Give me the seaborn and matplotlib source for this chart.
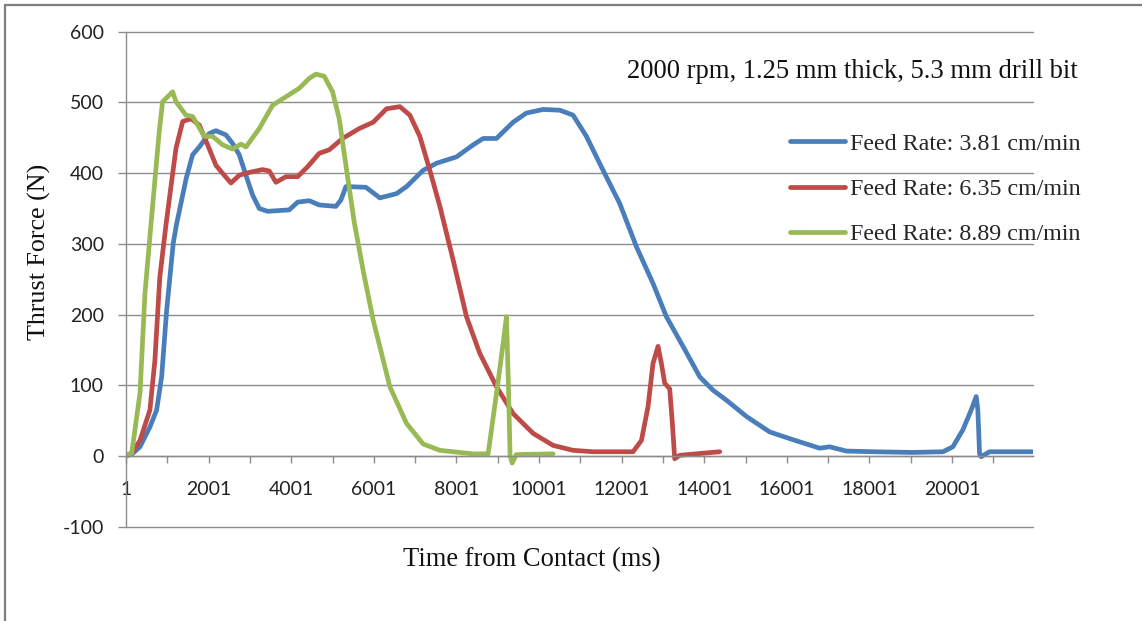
import numpy as np
import pandas as pd
import matplotlib
matplotlib.use("Agg")
import matplotlib.pyplot as plt
import seaborn as sns
from matplotlib.lines import Line2D

# ---- data ----
series_names = ["Feed Rate: 3.81 cm/min", "Feed Rate: 6.35 cm/min", "Feed Rate: 8.89 cm/min"]
series_colors = ["#4A7EBB", "#BE4B48", "#98B954"]

t_381 = [1, 150, 340, 580, 743, 864, 985, 1145, 1222, 1460, 1614, 1775, 2017, 2179, 2421,
         2582, 2743, 2905, 3066, 3227, 3429, 3953, 4156, 4437, 4679, 5083, 5204, 5325, 5808,
         6147, 6551, 6793, 7196, 7519, 8003, 8406, 8648, 8970, 9373, 9696, 10099, 10503,
         10825, 11148, 11551, 11955, 12358, 12761, 13084, 13487, 13891, 14213, 14536, 15020,
         15585, 16149, 16795, 17037, 17440, 18085, 19053, 19780, 20020, 20262, 20464, 20585,
         20625, 20666, 20706, 20908, 21950]
f_381 = [0, 3, 13, 41, 65, 112, 206, 301, 327, 393, 426, 437, 456, 460, 454,
         442, 426, 397, 369, 350, 346, 348, 359, 361, 355, 353, 362, 381, 380,
         365, 371, 381, 404, 414, 423, 440, 449, 449, 472, 485, 490, 489,
         482, 452, 404, 357, 296, 244, 197, 155, 112, 93, 79, 56,
         34, 23, 11, 13, 7, 6, 5, 6, 13, 37, 65, 84,
         65, 3, -1, 6, 6]

t_635 = [1, 150, 340, 580, 700, 820, 969, 1211, 1373, 1574, 1775, 1977, 2179, 2380, 2542,
         2743, 2985, 3309, 3470, 3631, 3873, 4156, 4398, 4680, 4922, 5244, 5647, 5986, 6309,
         6631, 6873, 7115, 7357, 7600, 7922, 8244, 8567, 8970, 9373, 9857, 10341, 10825,
         11310, 12277, 12480, 12640, 12760, 12882, 12963, 13043, 13164, 13229, 13286, 13407,
         14375]
f_635 = [0, 5, 22, 65, 135, 253, 327, 435, 473, 477, 468, 440, 411, 397, 386,
         397, 401, 405, 403, 387, 395, 395, 409, 428, 433, 449, 463, 472, 491,
         494, 482, 452, 404, 353, 277, 197, 145, 98, 60, 32, 15, 8,
         6, 6, 22, 70, 131, 155, 131, 103, 95, 46, -4, 1,
         6]

t_889 = [1, 140, 340, 460, 605, 806, 887, 1130, 1210, 1452, 1614, 1735, 1896, 2098, 2340,
         2582, 2783, 2905, 3227, 3550, 3873, 4195, 4437, 4599, 4800, 5002, 5163, 5325, 5526,
         5750, 5986, 6389, 6793, 7195, 7600, 8405, 8768, 8970, 9131, 9212, 9260, 9300, 9350,
         9450, 10340]
f_889 = [0, 4, 89, 230, 327, 459, 501, 515, 501, 482, 480, 468, 452, 452, 440,
         434, 441, 437, 463, 496, 508, 520, 534, 540, 537, 515, 477, 411, 331,
         260, 192, 98, 46, 17, 8, 3, 3, 88, 159, 197, 100, 0, -10,
         2, 3]

x_major = list(range(1, 20002, 2000))
x_minor = list(range(1001, 21002, 2000))
y_ticks = list(range(-100, 601, 100))

title_text = "2000 rpm, 1.25 mm thick, 5.3 mm drill bit"
x_label = "Time from Contact (ms)"
y_label = "Thrust Force (N)"

# ---- long-form table ----
frames = []
for name, t, f in zip(series_names, [t_381, t_635, t_889], [f_381, f_635, f_889]):
    frames.append(pd.DataFrame({"time": t, "force": f, "series": name}))
df = pd.concat(frames, ignore_index=True)

# ---- figure ----
sns.set_theme(style="white")
plt.rcParams["axes.unicode_minus"] = False
serif = ["Liberation Serif", "DejaVu Serif"]
W, H = 1142, 621
fig = plt.figure(figsize=(W / 100, H / 100), dpi=100)
L, R, T, B = 126, 1033, 31.7, 526.7
ax = fig.add_axes([L / W, 1 - B / H, (R - L) / W, (B - T) / H])

sns.lineplot(data=df, x="time", y="force", hue="series", hue_order=series_names,
             palette=series_colors, estimator=None, sort=False, linewidth=3.4,
             ax=ax, legend=True)
for ln in ax.get_lines():
    ln.set_solid_capstyle("round")
    ln.set_solid_joinstyle("round")

ax.set_xlim(1, 21960)
ax.set_ylim(-100, 600)
ax.set_yticks(y_ticks)
ax.set_xticks(x_major)
ax.set_xticks(x_minor, minor=True)
ax.set_xticklabels([str(v) for v in x_major])

grid_c = "#8C8C8C"
ax.yaxis.grid(True, color=grid_c, linewidth=1.0)
ax.xaxis.grid(False)
ax.set_axisbelow(True)
for gl in ax.yaxis.get_gridlines():
    gl.set_clip_on(False)
for s in ["top", "right"]:
    ax.spines[s].set_visible(False)
ax.spines["left"].set_color(grid_c)
ax.spines["left"].set_linewidth(1.0)
ax.spines["bottom"].set_position(("data", 0))
ax.spines["bottom"].set_color(grid_c)
ax.spines["bottom"].set_linewidth(1.0)

ax.tick_params(axis="y", which="both", direction="out", length=6, width=1,
               color=grid_c, pad=10, labelsize=14, labelcolor="#222222", left=True)
ax.tick_params(axis="x", which="both", direction="out", length=5, width=1,
               color=grid_c, pad=13, labelsize=14, labelcolor="#222222", bottom=True)
for lab in ax.get_xticklabels() + ax.get_yticklabels():
    lab.set_fontfamily("Lato")

ax.set_xlabel("")
ax.set_ylabel("")

# legend
leg = ax.legend(loc="upper left", bbox_to_anchor=(790 / W, 1 - 133 / H),
                bbox_transform=fig.transFigure, frameon=False, borderpad=0,
                borderaxespad=0, handlelength=2.3, handletextpad=0.18,
                labelspacing=0.97, prop={"family": serif, "size": 17.3})
for h in leg.legend_handles:
    h.set_linewidth(3.4)
    h.set_solid_capstyle("round")

# texts
fig.text(1078 / W, 1 - 72 / H, title_text, ha="right", va="center",
         fontsize=19.2, family=serif, color="#111111")
fig.text(532 / W, 1 - 560 / H, x_label, ha="center", va="center",
         fontsize=19.1, family=serif, color="#111111")
fig.text(39 / W, 1 - 252 / H, y_label, ha="center", va="center", rotation=90,
         fontsize=18.7, family=serif, color="#111111")

# outer frame (left and top edges of the chart area)
frame_c = "#7F7F7F"
fig.add_artist(Line2D([5 / W, 5 / W], [0, 1 - 5 / H], transform=fig.transFigure,
                      color=frame_c, linewidth=1.6))
fig.add_artist(Line2D([5 / W, 1], [1 - 5 / H, 1 - 5 / H], transform=fig.transFigure,
                      color=frame_c, linewidth=1.6))

fig.savefig("out.png", dpi=100, facecolor="white")
